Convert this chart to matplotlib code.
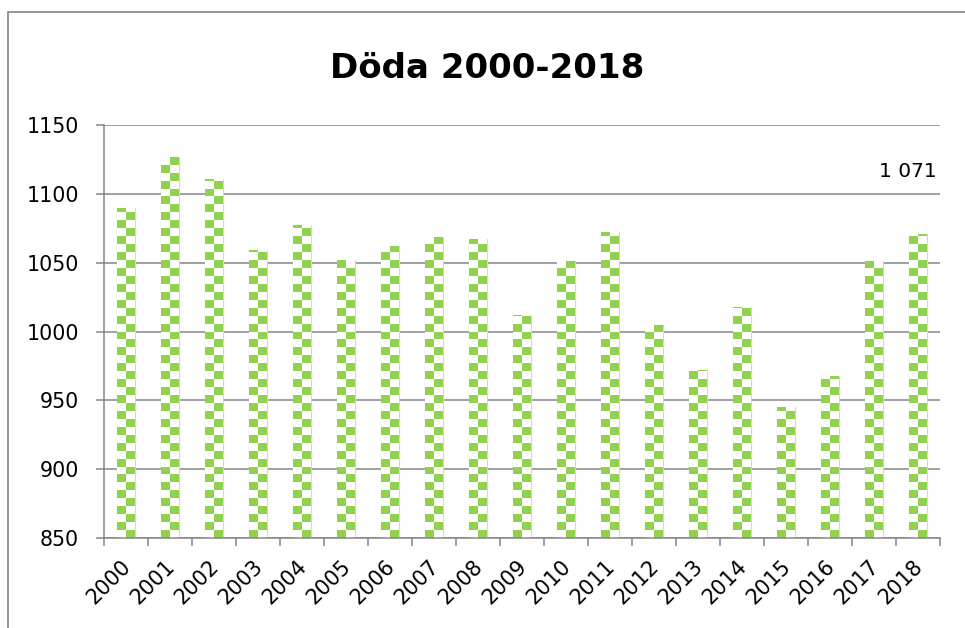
import matplotlib
matplotlib.use("Agg")
import matplotlib.pyplot as plt
import matplotlib.transforms as mtransforms
import numpy as np
from matplotlib.colors import ListedColormap
from matplotlib.patches import Rectangle

years = [str(y) for y in range(2000, 2019)]
deaths = [1090, 1127, 1111, 1059, 1077, 1052, 1062, 1069, 1067, 1012,
          1051, 1072, 1005, 972, 1018, 945, 968, 1051, 1071]
title = "Döda 2000-2018"
yticks = [850, 900, 950, 1000, 1050, 1100, 1150]

W, H = 965, 628
fig = plt.figure(figsize=(W / 100, H / 100), dpi=100)
fig.patch.set_facecolor("white")

# outer chart frame
fig.add_artist(Rectangle((8 / W, -0.1), 1.2, 1 - 12 / H + 0.1, transform=fig.transFigure,
                         fill=False, edgecolor="#8c8c8c", linewidth=1.3))

ax = fig.add_axes([104 / W, 1 - 538 / H, (940 - 104) / W, (538 - 125) / H])
ax.set_facecolor("white")

green = "#92D050"
cmap = ListedColormap(["white", green])
bw = 0.43
ymin, ymax = 850, 1150
nrows = 52
x = np.arange(len(years))
bars = ax.bar(x, [d - ymin for d in deaths], bottom=ymin, width=bw,
              color="white", edgecolor="#c6e6a4", linewidth=0.8, zorder=2)
yedges = np.linspace(ymin, ymax, nrows + 1)
for i, b in enumerate(bars):
    xedges = np.array([x[i] - bw / 2, x[i], x[i] + bw / 2])
    arr = (np.add.outer(np.arange(nrows), np.arange(2) + i) % 2).astype(float)
    mesh = ax.pcolormesh(xedges, yedges, arr, cmap=cmap, vmin=0, vmax=1,
                         shading="flat", zorder=3, linewidth=0, antialiased=True)
    mesh.set_clip_path(b)

ax.set_xlim(-0.5, len(years) - 0.5)
ax.set_ylim(ymin, ymax)
ax.set_yticks(yticks)
ax.yaxis.grid(True, color="#868686", linewidth=1.1, zorder=1)
ax.set_axisbelow(True)

for s in ["top", "right"]:
    ax.spines[s].set_visible(False)
for s in ["left", "bottom"]:
    ax.spines[s].set_color("#868686")
    ax.spines[s].set_linewidth(1.1)
    ax.spines[s].set_zorder(4)

ax.set_xticks(x)
ax.set_xticklabels(years, rotation=45, ha="right", rotation_mode="anchor",
                   fontsize=15, color="black")
ax.set_xticks(np.arange(-0.5, len(years), 1.0), minor=True)
ax.tick_params(axis="x", which="major", length=0, pad=13)
ax.tick_params(axis="x", which="minor", length=6, width=1.1, color="#868686")
ax.tick_params(axis="y", length=6, width=1.1, color="#868686", pad=12,
               labelsize=14.8, labelcolor="black")
shift = mtransforms.ScaledTranslation(-5 / 100, 0, fig.dpi_scale_trans)
for t in ax.get_xticklabels():
    t.set_transform(t.get_transform() + shift)

lab = f"{deaths[-1]:,}".replace(",", " ")
ax.text(18.43, 1116, lab, ha="right", va="center", fontsize=14.5, color="black")

fig.text(487 / W, 1 - 68 / H, title, ha="center", va="center",
         fontsize=24.5, fontweight="bold", color="black")

fig.savefig("out.png", dpi=100, facecolor="white")
